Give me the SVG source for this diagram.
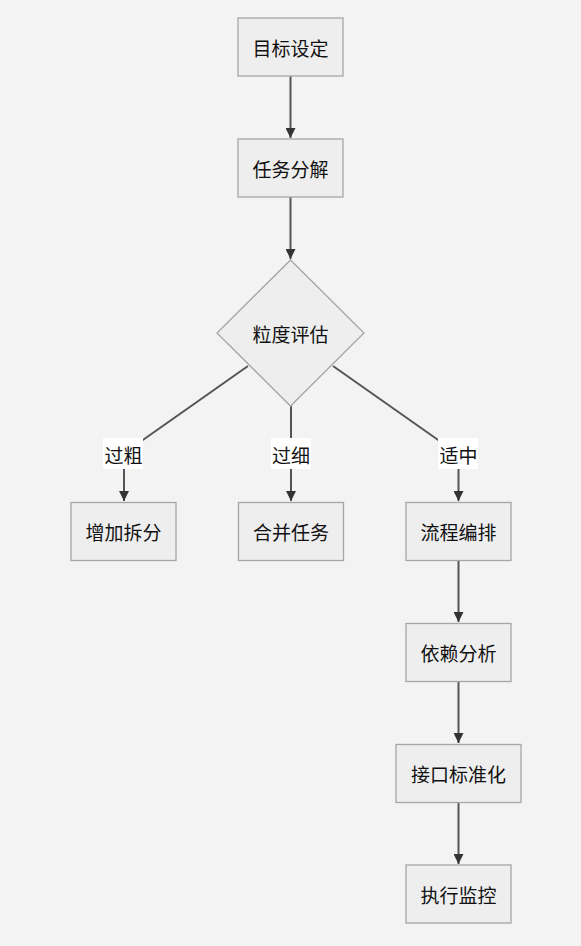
<svg xmlns="http://www.w3.org/2000/svg" width="581" height="946" viewBox="0 0 581 946">
<style>
.node rect,.node polygon{fill:#eeeeee;stroke:#a6a6a6;stroke-width:1.3}
text{font-family:"Noto Sans CJK SC","Liberation Sans",sans-serif;font-size:19px;fill:#111;text-anchor:middle;dominant-baseline:central}
.edge{fill:none;stroke:#555;stroke-width:2}
.lbl{fill:#ffffff}
</style>
<defs>
<marker id="arr" viewBox="0 0 10 10" refX="10" refY="5" markerWidth="10" markerHeight="10" markerUnits="userSpaceOnUse" orient="auto">
<path d="M0,0 L10,5 L0,10 z" fill="#333"/>
</marker>
</defs>
<rect width="581" height="946" fill="#f3f3f3"/>
<g id="edges">
<path class="edge" d="M290.5,76 L290.5,138" marker-end="url(#arr)"/>
<path class="edge" d="M290.5,197 L290.5,259" marker-end="url(#arr)"/>
<path class="edge" d="M248,366 L140,442 Q124,453 124,468 L124,501" marker-end="url(#arr)"/>
<path class="edge" d="M291,406 L291,501" marker-end="url(#arr)"/>
<path class="edge" d="M333,366 L441,442 Q458.5,453 458.5,468 L458.5,501" marker-end="url(#arr)"/>
<path class="edge" d="M458.5,561 L458.5,622" marker-end="url(#arr)"/>
<path class="edge" d="M458.5,682 L458.5,743" marker-end="url(#arr)"/>
<path class="edge" d="M458.5,803 L458.5,864" marker-end="url(#arr)"/>
<g id="label-guocu"><rect class="lbl" x="103" y="438" width="40" height="31"/><text x="123.5" y="454">过粗</text></g>
<g id="label-guoxi"><rect class="lbl" x="271" y="438" width="40" height="31"/><text x="291" y="454">过细</text></g>
<g id="label-shizhong"><rect class="lbl" x="438" y="438" width="40" height="31"/><text x="458.5" y="454">适中</text></g>
</g>
<g id="n1" class="node"><rect x="238" y="18" width="105" height="58"/><text x="290.5" y="47">目标设定</text></g>
<g id="n2" class="node"><rect x="238" y="139" width="105" height="58"/><text x="290.5" y="168">任务分解</text></g>
<g id="n3" class="node"><polygon points="290.5,260 364,333 290.5,406 217,333"/><text x="290.5" y="333">粒度评估</text></g>
<g id="n4" class="node"><rect x="71" y="502.5" width="105" height="58"/><text x="123.5" y="531.5">增加拆分</text></g>
<g id="n5" class="node"><rect x="238.5" y="502.5" width="105" height="58"/><text x="291" y="531.5">合并任务</text></g>
<g id="n6" class="node"><rect x="406" y="502.5" width="105" height="58"/><text x="458.5" y="531.5">流程编排</text></g>
<g id="n7" class="node"><rect x="406" y="623.5" width="105" height="58"/><text x="458.5" y="652.5">依赖分析</text></g>
<g id="n8" class="node"><rect x="396" y="744.5" width="125" height="58"/><text x="458.5" y="773.5">接口标准化</text></g>
<g id="n9" class="node"><rect x="406" y="865" width="105" height="58"/><text x="458.5" y="894">执行监控</text></g>
</svg>
